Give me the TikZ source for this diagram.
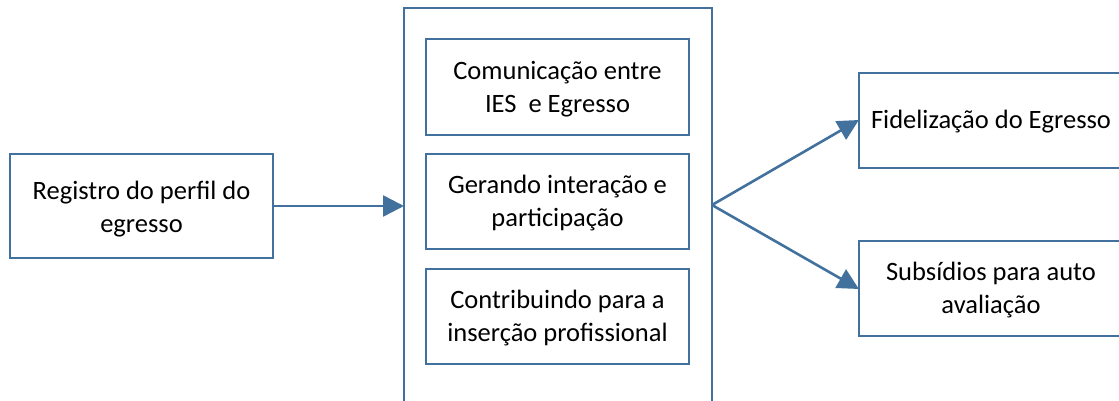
\documentclass[tikz,border=0pt]{standalone}
\usepackage{fontspec}
\setmainfont{Carlito}
\usetikzlibrary{arrows.meta}
\definecolor{boxblue}{RGB}{65,113,156}
\tikzset{
  box/.style={draw=boxblue, line width=2pt, rectangle, inner sep=0pt},
  txt/.style={align=center, inner sep=0pt, font=\fontsize{26.5}{33}\selectfont, text=black, yshift=-2pt},
  conn/.style={draw=boxblue, line width=2.6pt, -{Triangle[length=21pt,width=21pt]}, shorten >=-1pt}
}
\begin{document}
\begin{tikzpicture}[x=1pt,y=-1pt]
\useasboundingbox (0,0) rectangle (1119,401);
\clip (0,0) rectangle (1119,401);
\node[box, minimum width=263pt, minimum height=104pt,
  label={[txt,yshift=-1pt]center:{Registro do perfil do\\egresso}}] (reg) at (141.5,206) {};
\node[box, minimum width=308pt, minimum height=412pt] (grp) at (558,214) {};
\node[box, minimum width=263pt, minimum height=96pt,
  label={[txt]center:{Comunicação entre\\IES~~e Egresso}}] (com) at (557.5,87) {};
\node[box, minimum width=263pt, minimum height=95pt,
  label={[txt]center:{Gerando interação e\\participação}}] (ger) at (557.5,201.5) {};
\node[box, minimum width=263pt, minimum height=95pt,
  label={[txt]center:{Contribuindo para a\\inserção profissional}}] (con) at (557.5,316.5) {};
\node[box, minimum width=264pt, minimum height=95pt,
  label={[txt,yshift=0.5pt]center:{Fidelização do Egresso}}] (fid) at (991,120.5) {};
\node[box, minimum width=264pt, minimum height=95pt,
  label={[txt,yshift=0.5pt]center:{Subsídios para auto\\avaliação}}] (sub) at (991,288.5) {};
\coordinate (br) at (712,205);
\draw[conn] (reg.east) -- (reg.east -| grp.west);
\draw[conn] (br) -- (fid.west);
\draw[conn] (br) -- (sub.west);
\end{tikzpicture}
\end{document}
